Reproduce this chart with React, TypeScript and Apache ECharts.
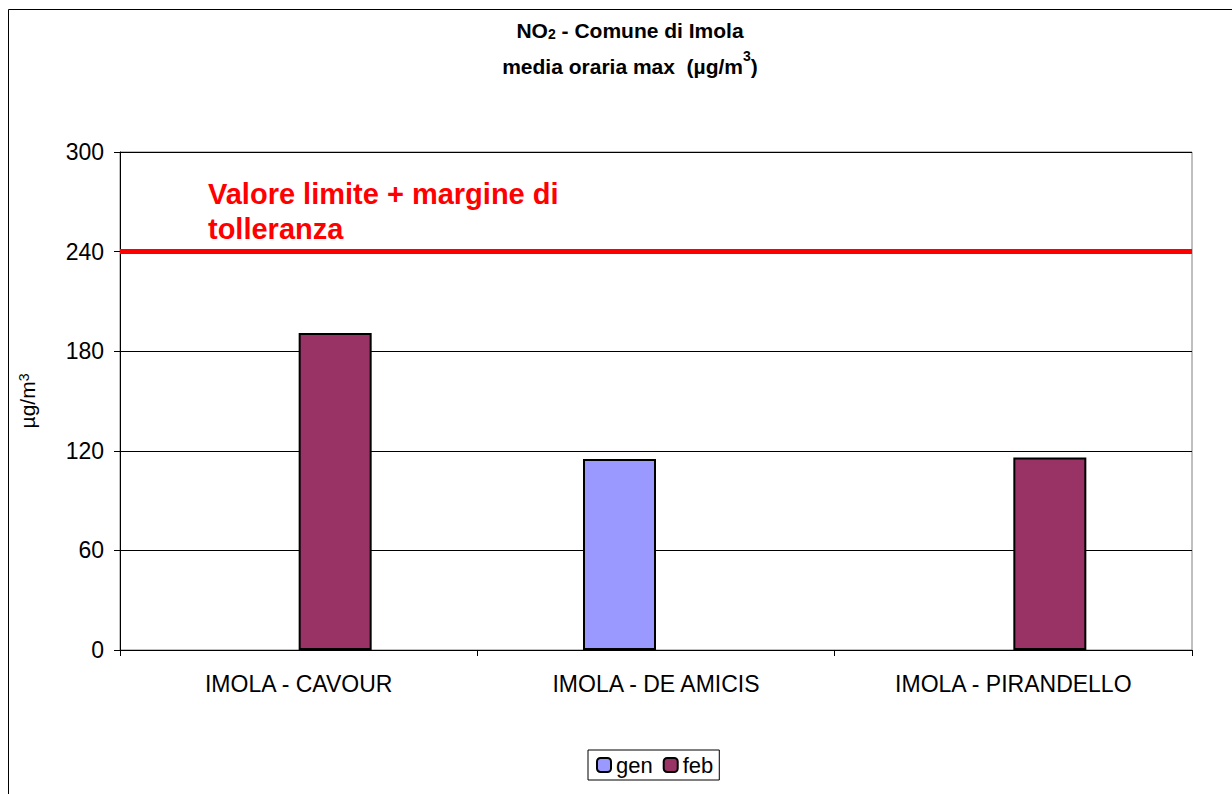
import React, { useEffect, useRef } from "react";
import * as echarts from "echarts";

const categories = ["IMOLA - CAVOUR", "IMOLA - DE AMICIS", "IMOLA - PIRANDELLO"];
const genValues: (number | null)[] = [null, 115, null];
const febValues: (number | null)[] = [191, null, 116];
const limitValue = 240;
const yTicks = { min: 0, max: 300, interval: 60 };

const FONT = "Liberation Sans, Arial, sans-serif";

export default function App() {
  const ref = useRef<HTMLDivElement>(null);
  useEffect(() => {
    if (!ref.current) return;
    const chart = echarts.init(ref.current, null, { renderer: "svg" });
    chart.setOption({
      animation: false,
      backgroundColor: "#ffffff",
      textStyle: { fontFamily: FONT },
      grid: {
        left: 120,
        right: 40,
        top: 152,
        bottom: 144,
        show: true,
        borderColor: "#808080",
        borderWidth: 1,
        backgroundColor: "transparent",
      },
      graphic: [
        {
          type: "rect",
          shape: { x: 8.5, y: 9.5, width: 1260, height: 820 },
          style: { fill: "none", stroke: "#000", lineWidth: 1 },
          z: -1,
        },
        {
          type: "text",
          x: 630,
          y: 17,
          style: {
            text: "{b|NO}{s|2}{b| - Comune di Imola}",
            align: "center",
            fontFamily: FONT,
            rich: {
              b: { fontSize: 21, fontWeight: "bold", fontFamily: FONT, fill: "#000", verticalAlign: "bottom", lineHeight: 24 },
              s: { fontSize: 14, fontWeight: "bold", fontFamily: FONT, fill: "#000", verticalAlign: "bottom", lineHeight: 10 },
            },
          },
        },
        {
          type: "text",
          x: 630,
          y: 49,
          style: {
            text: "{b|media oraria max  (µg/m}{p|3}{b|)}",
            align: "center",
            fontFamily: FONT,
            rich: {
              b: { fontSize: 21, fontWeight: "bold", fontFamily: FONT, fill: "#000", verticalAlign: "bottom", lineHeight: 24 },
              p: { fontSize: 14, fontWeight: "bold", fontFamily: FONT, fill: "#000", verticalAlign: "top", lineHeight: 28 },
            },
          },
        },
        {
          type: "text",
          x: 208,
          y: 176,
          style: {
            text: "Valore limite + margine di\ntolleranza",
            fontSize: 29,
            fontWeight: "bold",
            fontFamily: FONT,
            fill: "#ff0000",
            lineHeight: 35,
          },
        },
      ],
      legend: {
        data: ["gen", "feb"],
        left: 588,
        top: 750,
        itemWidth: 14,
        itemHeight: 14,
        itemGap: 10,
        borderColor: "#000",
        borderWidth: 1,
        padding: [4, 6, 4, 8],
        textStyle: { fontSize: 22, fontFamily: FONT, color: "#000", padding: [0, 0, 0, 0] },
      },
      xAxis: {
        type: "category",
        data: categories,
        axisLine: { lineStyle: { color: "#000", width: 1 } },
        axisTick: { show: true, alignWithLabel: false, length: 6, lineStyle: { color: "#000" } },
        axisLabel: { fontSize: 23, fontFamily: FONT, color: "#000", margin: 22 },
      },
      yAxis: {
        type: "value",
        min: yTicks.min,
        max: yTicks.max,
        interval: yTicks.interval,
        name: "{a|µg/m}{p|3}",
        nameLocation: "middle",
        nameRotate: 90,
        nameGap: 82,
        nameTextStyle: {
          rich: {
            a: { fontSize: 21, fontFamily: FONT, color: "#000" },
            p: { fontSize: 14, fontFamily: FONT, color: "#000", verticalAlign: "top", lineHeight: 14 },
          },
        },
        axisLine: { show: true, lineStyle: { color: "#000", width: 1 } },
        axisTick: { show: true, length: 6, lineStyle: { color: "#000" } },
        axisLabel: { fontSize: 23, fontFamily: FONT, color: "#000", margin: 16 },
        splitLine: { show: true, lineStyle: { color: "#000", width: 1 } },
      },
      series: [
        {
          name: "gen",
          type: "bar",
          data: genValues,
          barWidth: 73,
          barGap: "0%",
          itemStyle: { color: "#9999ff", borderColor: "#000", borderWidth: 2 },
          markLine: {
            silent: true,
            symbol: "none",
            label: { show: false },
            lineStyle: { color: "#ff0000", width: 5, type: "solid" },
            data: [{ yAxis: limitValue }],
          },
        },
        {
          name: "feb",
          type: "bar",
          data: febValues,
          barWidth: 73,
          barGap: "0%",
          itemStyle: { color: "#993366", borderColor: "#000", borderWidth: 2 },
        },
      ],
    });
    return () => chart.dispose();
  }, []);
  return (
    <div
      ref={ref}
      style={{ position: "fixed", left: 0, top: 0, width: 1232, height: 794 }}
    />
  );
}
